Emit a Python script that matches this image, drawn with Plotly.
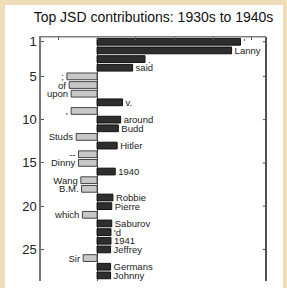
import plotly.graph_objects as go

words = ["'", "Lanny", ".", "said", ";", "of", "upon", "v.", ",", "around",
         "Budd", "Studs", "Hitler", "--", "Dinny", "1940", "Wang", "B.M.",
         "Robbie", "Pierre", "which", "Saburov", "'d", "1941", "Jeffrey",
         "Sir", "Germans", "Johnny"]
values = [3.71, 3.48, 1.24, 0.92, -0.78, -0.72, -0.67, 0.66, -0.67, 0.61,
          0.55, -0.54, 0.52, -0.48, -0.48, 0.47, -0.42, -0.40,
          0.41, 0.38, -0.38, 0.38, 0.36, 0.36, 0.35,
          -0.36, 0.35, 0.35]
ranks = list(range(1, len(words) + 1))
ytick_vals = [1, 5, 10, 15, 20, 25]
xtick_vals = [-1, 0, 1, 2, 3, 4]

pos_r = [r for r, v in zip(ranks, values) if v > 0]
pos_v = [v for v in values if v > 0]
pos_w = [w for w, v in zip(words, values) if v > 0]
neg_r = [r for r, v in zip(ranks, values) if v < 0]
neg_v = [v for v in values if v < 0]
neg_w = [w for w, v in zip(words, values) if v < 0]

label_font = dict(family="Liberation Sans, Arial", size=9.5, color="#222222")

fig = go.Figure()
fig.add_trace(go.Bar(
    x=pos_v, y=pos_r, orientation="h", width=0.78,
    marker=dict(color="#2e2e2e", line=dict(color="#111111", width=1)),
    text=pos_w, textposition="outside", cliponaxis=False, constraintext="none",
    textfont=label_font, showlegend=False, hoverinfo="skip"))
fig.add_trace(go.Bar(
    x=neg_v, y=neg_r, orientation="h", width=0.78,
    marker=dict(color="#c8c8c8", line=dict(color="#444444", width=1)),
    text=neg_w, textposition="outside", cliponaxis=False, constraintext="none",
    textfont=label_font, showlegend=False, hoverinfo="skip"))

# parchment border strips around the white figure panel (pixel -> paper coords)
PW, PH, L, B = 225, 244, 41, 7
def px(x):
    return (x - L) / PW
def py(y):
    return (288 - B - y) / PH
parch = "#efdcb9"
for x0, y0, x1, y1 in [(0, 0, 287, 5), (0, 0, 5, 288), (283, 0, 287, 288)]:
    fig.add_shape(type="rect", xref="paper", yref="paper", layer="below",
                  x0=px(x0), x1=px(x1), y0=py(y1), y1=py(y0),
                  fillcolor=parch, line=dict(width=0))
# right and top frame lines
fig.add_shape(type="line", xref="paper", yref="paper", x0=1, x1=1, y0=0, y1=1,
              line=dict(color="#505050", width=2))
fig.add_shape(type="line", xref="paper", yref="paper", x0=0, x1=1, y0=1, y1=1,
              line=dict(color="#808080", width=1))
# right-side inward ticks
for t in ytick_vals:
    fig.add_shape(type="line", xref="x", yref="y", x0=4.37 - 0.08, x1=4.37, y0=t, y1=t,
                  line=dict(color="#505050", width=1))

fig.update_layout(
    width=287, height=288,
    margin=dict(l=41, r=21, t=37, b=7),
    paper_bgcolor="white", plot_bgcolor="white",
    title=dict(text="Top JSD contributions: 1930s to 1940s", x=0.5, xanchor="center",
               xref="paper", y=1 - 17 / 288, yanchor="middle",
               font=dict(family="Liberation Sans, Arial", size=14, color="#111111")),
    font=dict(family="Liberation Sans, Arial", color="#222222"),
)
fig.update_xaxes(range=[-1.45, 4.37], side="top", showticklabels=False,
                 tickvals=xtick_vals, ticks="inside", ticklen=3, tickcolor="#555555",
                 showline=True, linecolor="#808080", linewidth=1, mirror=False,
                 showgrid=False, zeroline=True, zerolinecolor="#444444", zerolinewidth=1)
fig.update_yaxes(range=[28.65, 0.45], tickvals=ytick_vals, ticks="inside", ticklen=3,
                 tickcolor="#555555", showline=True, linecolor="#777777", linewidth=1.5,
                 mirror=False, showgrid=False, zeroline=False,
                 tickfont=dict(family="Liberation Sans, Arial", size=13, color="#222222"))

fig.write_html("out.html", config={"displayModeBar": False},
               post_script="document.body.style.margin='0';document.body.style.overflow='hidden';")
